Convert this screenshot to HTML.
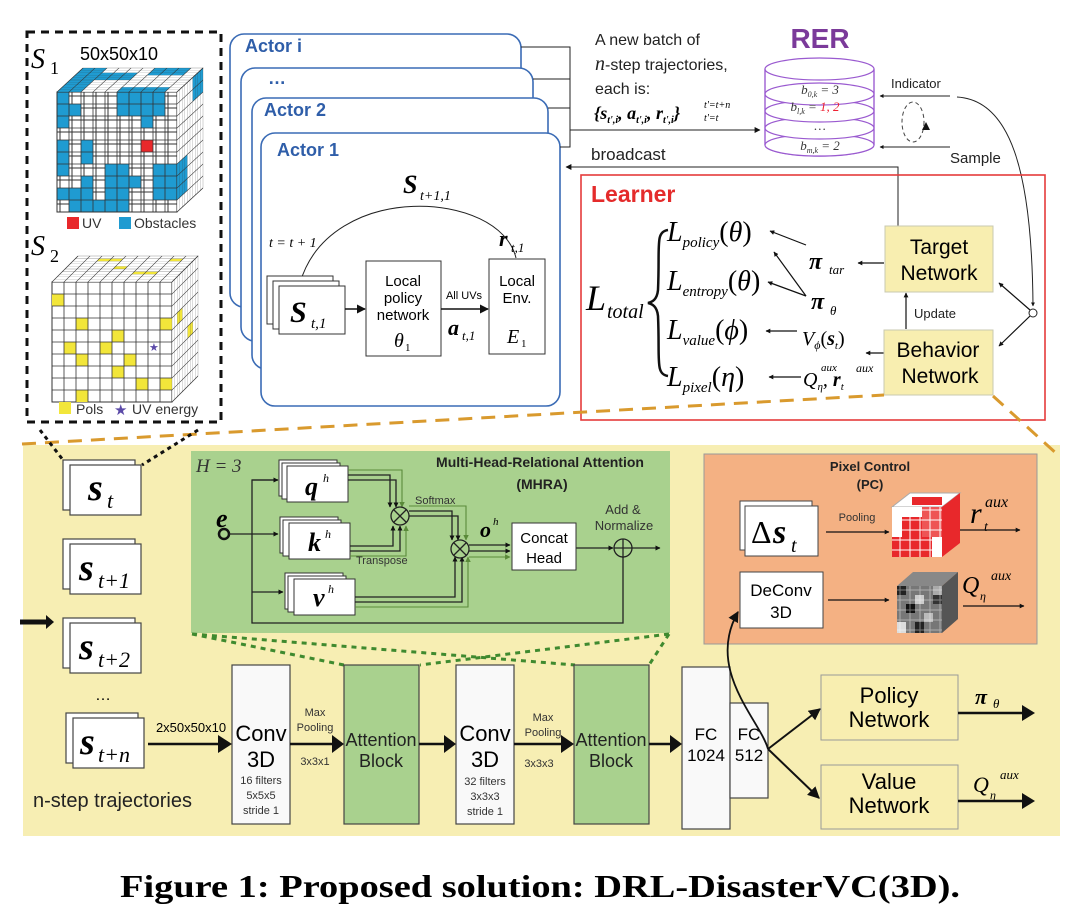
<!DOCTYPE html>
<html><head><meta charset="utf-8"><style>
html,body{margin:0;padding:0;background:#fff;}
svg{display:block;}
.m{font-family:"Liberation Serif",serif;font-style:italic;}
.mb{font-family:"Liberation Serif",serif;font-style:italic;font-weight:bold;}
.sr{font-family:"Liberation Serif",serif;}
</style></head><body>
<svg width="1080" height="923" viewBox="0 0 1080 923" xmlns="http://www.w3.org/2000/svg" font-family="Liberation Sans, sans-serif">
<defs>
<pattern id="g12" width="12" height="12" patternUnits="userSpaceOnUse"><rect width="12" height="12" fill="#fff" stroke="#333" stroke-width="1"/></pattern>
<pattern id="g10" width="10" height="10" patternUnits="userSpaceOnUse"><rect width="10" height="10" fill="none" stroke="#fff" stroke-width="1"/></pattern>
<marker id="a" viewBox="0 0 10 10" refX="9" refY="5" markerWidth="6" markerHeight="6" orient="auto"><path d="M0,0L10,5L0,10z" fill="#111"/></marker>
<marker id="a2" viewBox="0 0 10 10" refX="9" refY="5" markerWidth="4" markerHeight="4" orient="auto"><path d="M0,0L10,5L0,10z" fill="#111"/></marker>
<marker id="ag" viewBox="0 0 10 10" refX="9" refY="5" markerWidth="5" markerHeight="5" orient="auto"><path d="M0,0L10,5L0,10z" fill="#5a8a3a"/></marker>
</defs>

<!-- ===== S1 / S2 dashed box ===== -->
<rect x="27" y="32" width="194" height="390" fill="none" stroke="#111" stroke-width="3" stroke-dasharray="8,6"/>
<text x="31" y="68" class="m" font-size="28">S</text><text x="50" y="74" class="sr" font-size="18">1</text>
<text x="80" y="60" font-size="18">50x50x10</text>

<!-- cube 1 -->
<g>
 <rect x="57" y="92" width="120" height="120" fill="url(#g12)"/>
 <g fill="#1f9bd1">
  <rect x="57" y="92" width="12" height="36"/><rect x="69" y="104" width="12" height="12"/>
  <rect x="57" y="140" width="12" height="36"/><rect x="81" y="140" width="12" height="24"/>
  <rect x="57" y="188" width="36" height="12"/><rect x="69" y="200" width="36" height="12"/>
  <rect x="117" y="92" width="48" height="24"/><rect x="141" y="116" width="12" height="12"/>
  <rect x="105" y="164" width="24" height="48"/><rect x="129" y="176" width="12" height="12"/>
  <rect x="153" y="164" width="24" height="36"/><rect x="81" y="176" width="12" height="24"/>
 </g>
 <rect x="141" y="140" width="12" height="12" fill="#e8282b"/>
 <rect x="57" y="92" width="120" height="120" fill="none" stroke="#333"/>
 <path d="M57 104H177M57 116H177M57 128H177M57 140H177M57 152H177M57 164H177M57 176H177M57 188H177M57 200H177M69 92V212M81 92V212M93 92V212M105 92V212M117 92V212M129 92V212M141 92V212M153 92V212M165 92V212" stroke="#333" stroke-width="0.8"/>
 <g transform="matrix(1,0,0.2167,-0.2,57,92)">
  <rect width="120" height="120" fill="#fff"/>
  <g fill="#1f9bd1"><rect x="0" y="0" width="24" height="120"/><rect x="24" y="60" width="36" height="36"/><rect x="60" y="0" width="48" height="24"/><rect x="72" y="84" width="36" height="36"/></g>
  <rect width="120" height="120" fill="none" stroke="#333"/>
  <path d="M12 0V120M24 0V120M36 0V120M48 0V120M60 0V120M72 0V120M84 0V120M96 0V120M108 0V120M0 12H120M0 24H120M0 36H120M0 48H120M0 60H120M0 72H120M0 84H120M0 96H120M0 108H120" stroke="#333" stroke-width="0.8"/>
 </g>
 <g transform="matrix(0.2167,-0.2,0,1,177,92)">
  <rect width="120" height="120" fill="#fff"/>
  <g fill="#1f9bd1"><rect x="0" y="72" width="48" height="36"/><rect x="72" y="0" width="48" height="24"/></g>
  <rect width="120" height="120" fill="none" stroke="#333"/>
  <path d="M12 0V120M24 0V120M36 0V120M48 0V120M60 0V120M72 0V120M84 0V120M96 0V120M108 0V120M0 12H120M0 24H120M0 36H120M0 48H120M0 60H120M0 72H120M0 84H120M0 96H120M0 108H120" stroke="#333" stroke-width="0.8"/>
 </g>
</g>
<rect x="67" y="217" width="12" height="12" fill="#e8282b"/><text x="82" y="228" font-size="14" fill="#333">UV</text>
<rect x="119" y="217" width="12" height="12" fill="#1f9bd1"/><text x="134" y="228" font-size="14" fill="#333">Obstacles</text>

<text x="31" y="255" class="m" font-size="28">S</text><text x="50" y="262" class="sr" font-size="18">2</text>
<!-- cube 2 -->
<g>
 <rect x="52" y="282" width="120" height="120" fill="#fff" stroke="#333"/>
 <g fill="#f2e63a">
  <rect x="52" y="294" width="12" height="12"/><rect x="76" y="318" width="12" height="12"/><rect x="64" y="342" width="12" height="12"/>
  <rect x="76" y="354" width="12" height="12"/><rect x="112" y="330" width="12" height="12"/><rect x="160" y="318" width="12" height="12"/>
  <rect x="124" y="354" width="12" height="12"/><rect x="112" y="366" width="12" height="12"/><rect x="136" y="378" width="12" height="12"/>
  <rect x="160" y="378" width="12" height="12"/><rect x="76" y="390" width="12" height="12"/><rect x="100" y="342" width="12" height="12"/>
 </g>
 <path d="M52 294H172M52 306H172M52 318H172M52 330H172M52 342H172M52 354H172M52 366H172M52 378H172M52 390H172M64 282V402M76 282V402M88 282V402M100 282V402M112 282V402M124 282V402M136 282V402M148 282V402M160 282V402" stroke="#333" stroke-width="0.8"/>
 <text x="149" y="351" font-size="11" fill="#5b4aa8">★</text>
 <g transform="matrix(1,0,0.2167,-0.2165,52,282)">
  <rect width="120" height="120" fill="#fff"/>
  <g fill="#f2e63a"><rect x="24" y="96" width="24" height="12"/><rect x="72" y="36" width="24" height="12"/><rect x="96" y="96" width="12" height="12"/><rect x="48" y="60" width="12" height="12"/></g>
  <rect width="120" height="120" fill="none" stroke="#333"/>
  <path d="M12 0V120M24 0V120M36 0V120M48 0V120M60 0V120M72 0V120M84 0V120M96 0V120M108 0V120M0 12H120M0 24H120M0 36H120M0 48H120M0 60H120M0 72H120M0 84H120M0 96H120M0 108H120" stroke="#333" stroke-width="0.8"/>
 </g>
 <g transform="matrix(0.2167,-0.2165,0,1,172,282)">
  <rect width="120" height="120" fill="#fff"/>
  <g fill="#f2e63a"><rect x="24" y="36" width="24" height="12"/><rect x="72" y="60" width="24" height="12"/></g>
  <rect width="120" height="120" fill="none" stroke="#333"/>
  <path d="M12 0V120M24 0V120M36 0V120M48 0V120M60 0V120M72 0V120M84 0V120M96 0V120M108 0V120M0 12H120M0 24H120M0 36H120M0 48H120M0 60H120M0 72H120M0 84H120M0 96H120M0 108H120" stroke="#333" stroke-width="0.8"/>
 </g>
</g>
<rect x="59" y="402" width="12" height="12" fill="#f2e63a"/><text x="76" y="414" font-size="14" fill="#333">Pols</text>
<text x="114" y="415" font-size="15" fill="#5b4aa8">★</text><text x="132" y="414" font-size="14" fill="#333">UV energy</text>

<!-- ===== Actors ===== -->
<g fill="#fff" stroke="#3a6bb5" stroke-width="1.6">
 <rect x="230" y="34" width="291" height="273" rx="14"/>
 <rect x="241" y="68" width="292" height="273" rx="14"/>
 <rect x="252" y="98" width="296" height="271" rx="14"/>
 <rect x="261" y="133" width="299" height="273" rx="14"/>
</g>
<g font-weight="bold" fill="#2f5ea9" font-size="18">
 <text x="245" y="52">Actor i</text>
 <text x="268" y="84">…</text>
 <text x="264" y="116">Actor 2</text>
 <text x="277" y="156">Actor 1</text>
</g>
<g stroke="#222" stroke-width="1" fill="none">
 <path d="M521 47H570V147H560M533 79H570M548 108H570"/>
 <path d="M570 130H760" marker-end="url(#a)"/>
</g>
<text x="403" y="193" class="mb" font-size="26">S</text><text x="420" y="200" class="m" font-size="14">t+1,1</text>
<path d="M516 258C500 190 330 180 300 283" fill="none" stroke="#222" stroke-width="1" marker-end="url(#a2)"/>
<text x="269" y="247" class="m" font-size="14">t = t + 1</text>
<text x="499" y="246" class="mb" font-size="22">r</text><text x="511" y="252" class="m" font-size="13">t,1</text>
<rect x="267" y="276" width="66" height="48" fill="#fff" stroke="#333"/>
<rect x="273" y="281" width="66" height="48" fill="#fff" stroke="#333"/>
<rect x="279" y="286" width="66" height="48" fill="#fff" stroke="#333"/>
<text x="290" y="322" class="mb" font-size="30">S</text><text x="311" y="328" class="m" font-size="15">t,1</text>
<path d="M345 309H365" stroke="#111" stroke-width="1.5" marker-end="url(#a)"/>
<rect x="366" y="261" width="75" height="95" fill="#fff" stroke="#333"/>
<g font-size="15" text-anchor="middle"><text x="403" y="286">Local</text><text x="403" y="303">policy</text><text x="403" y="320">network</text></g>
<text x="394" y="347" class="m" font-size="20">θ</text><text x="405" y="351" class="sr" font-size="11">1</text>
<text x="464" y="299" font-size="11" text-anchor="middle">All UVs</text>
<path d="M441 309H488" stroke="#111" stroke-width="1.5" marker-end="url(#a)"/>
<text x="448" y="335" class="mb" font-size="22">a</text><text x="462" y="340" class="m" font-size="13">t,1</text>
<rect x="489" y="259" width="56" height="95" fill="#fff" stroke="#333"/>
<g font-size="15" text-anchor="middle"><text x="517" y="286">Local</text><text x="517" y="303">Env.</text></g>
<text x="507" y="343" class="m" font-size="20">E</text><text x="521" y="347" class="sr" font-size="11">1</text>

<!-- ===== batch text ===== -->
<g font-size="16" fill="#222">
 <text x="595" y="45">A new batch of</text>
 <text x="595" y="70"><tspan class="m" font-size="20">n</tspan>-step trajectories,</text>
 <text x="595" y="94">each is:</text>
</g>
<text x="594" y="119" class="mb" font-size="18">{s<tspan font-size="10" dy="4">t',i</tspan><tspan dy="-4">, a</tspan><tspan font-size="10" dy="4">t',i</tspan><tspan dy="-4">, r</tspan><tspan font-size="10" dy="4">t',i</tspan><tspan dy="-4">}</tspan></text>
<text x="704" y="108" class="m" font-size="10">t'=t+n</text><text x="704" y="121" class="m" font-size="10">t'=t</text>

<!-- ===== RER ===== -->
<text x="820" y="48" text-anchor="middle" font-weight="bold" font-size="28" fill="#7b3a9a">RER</text>
<g fill="#fff" stroke="#9a5ad0" stroke-width="1.2">
 <path d="M765 69V145A54 11 0 0 0 874 145V69"/>
 <ellipse cx="819.5" cy="145" rx="54.5" ry="11"/>
 <ellipse cx="819.5" cy="128" rx="54.5" ry="11"/>
 <ellipse cx="819.5" cy="111" rx="54.5" ry="11"/>
 <ellipse cx="819.5" cy="94" rx="54.5" ry="11"/>
 <ellipse cx="819.5" cy="69" rx="54.5" ry="11"/>
 <path d="M765 69V145M874 69V145" fill="none"/>
</g>
<g font-size="13" fill="#333" text-anchor="middle">
 <text x="820" y="94" class="m">b<tspan font-size="8" dy="3">0,k</tspan><tspan dy="-3"> = 3</tspan></text>
 <text x="815" y="111" class="m">b<tspan font-size="8" dy="3">l,k</tspan><tspan dy="-3"> = </tspan><tspan fill="#e23">1, 2</tspan></text>
 <text x="820" y="130" class="m">…</text>
 <text x="820" y="150" class="m">b<tspan font-size="8" dy="3">m,k</tspan><tspan dy="-3"> = 2</tspan></text>
</g>
<text x="891" y="88" font-size="13" fill="#222">Indicator</text>
<path d="M950 96H880" stroke="#222" stroke-width="1" marker-end="url(#a2)"/>
<text x="950" y="163" font-size="15" fill="#222">Sample</text>
<path d="M950 147H880" stroke="#222" stroke-width="1" marker-end="url(#a2)"/>
<ellipse cx="913" cy="122" rx="11" ry="20" fill="none" stroke="#444" stroke-dasharray="4,3"/>
<path d="M922 130l4 -8 4 8z" fill="#111"/>
<path d="M957 97C1010 100 1032 170 1033 306" fill="none" stroke="#222" stroke-width="1" marker-end="url(#a2)"/>

<text x="591" y="160" font-size="17" fill="#222">broadcast</text>
<path d="M898 226V167H566" fill="none" stroke="#222" stroke-width="1" marker-end="url(#a)"/>

<!-- ===== Learner ===== -->
<rect x="581" y="175" width="464" height="245" fill="none" stroke="#e53b3b" stroke-width="1.6"/>
<text x="591" y="202" font-weight="bold" font-size="23" fill="#e42b2b">Learner</text>
<text x="586" y="310" class="m" font-size="36">L</text><text x="607" y="318" class="m" font-size="20">total</text>
<path d="M668 230C655 232 660 245 658 290C657 300 652 302 648 303C652 304 657 306 658 316C660 360 655 374 668 376" fill="none" stroke="#111" stroke-width="2.5"/>
<text x="667" y="241" class="m" font-size="28">L<tspan font-size="15" dy="6">policy</tspan><tspan dy="-6" font-style="normal">(</tspan>θ<tspan font-style="normal">)</tspan></text>
<text x="667" y="290" class="m" font-size="28">L<tspan font-size="15" dy="6">entropy</tspan><tspan dy="-6" font-style="normal">(</tspan>θ<tspan font-style="normal">)</tspan></text>
<text x="667" y="339" class="m" font-size="28">L<tspan font-size="15" dy="6">value</tspan><tspan dy="-6" font-style="normal">(</tspan>ϕ<tspan font-style="normal">)</tspan></text>
<text x="667" y="386" class="m" font-size="28">L<tspan font-size="15" dy="6">pixel</tspan><tspan dy="-6" font-style="normal">(</tspan>η<tspan font-style="normal">)</tspan></text>
<text x="809" y="269" class="mb" font-size="24">π</text><text x="829" y="274" class="m" font-size="13">tar</text>
<text x="811" y="309" class="mb" font-size="24">π</text><text x="830" y="315" class="m" font-size="13">θ</text>
<text x="802" y="345" class="m" font-size="20">V<tspan font-size="12" dy="4">ϕ</tspan><tspan dy="-4" font-style="normal">(</tspan><tspan font-weight="bold">s</tspan><tspan font-size="11" dy="4">t</tspan><tspan dy="-4" font-style="normal">)</tspan></text>
<text x="803" y="386" class="m" font-size="20">Q<tspan font-size="11" dy="4">η</tspan><tspan dy="-4">, </tspan><tspan font-weight="bold">r</tspan><tspan font-size="11" dy="4">t</tspan></text>
<text x="821" y="371" class="m" font-size="11">aux</text><text x="856" y="372" class="m" font-size="12">aux</text>
<g stroke="#111" stroke-width="1.2" fill="none">
 <path d="M806 245L770 231" marker-end="url(#a2)"/>
 <path d="M806 296L774 252" marker-end="url(#a2)"/>
 <path d="M806 296L768 282" marker-end="url(#a2)"/>
 <path d="M797 331H766" marker-end="url(#a2)"/>
 <path d="M801 377H769" marker-end="url(#a2)"/>
 <path d="M884 263H858" marker-end="url(#a2)"/>
 <path d="M884 353H866" marker-end="url(#a2)"/>
 <path d="M906 329V293" marker-end="url(#a2)"/>
 <path d="M1030 310L999 283" marker-end="url(#a2)"/>
 <path d="M1030 316L999 346" marker-end="url(#a2)"/>
</g>
<circle cx="1033" cy="313" r="4" fill="#fff" stroke="#222"/>
<text x="914" y="318" font-size="13" fill="#222">Update</text>
<rect x="885" y="226" width="108" height="66" fill="#f8eeb0" stroke="#c9c9b0"/>
<text x="939" y="254" text-anchor="middle" font-size="21">Target</text><text x="939" y="280" text-anchor="middle" font-size="21">Network</text>
<rect x="884" y="330" width="109" height="65" fill="#f8eeb0" stroke="#c9c9b0"/>
<text x="938" y="357" text-anchor="middle" font-size="21">Behavior</text><text x="940" y="383" text-anchor="middle" font-size="21">Network</text>

<!-- ===== lower panel ===== -->
<rect x="23" y="445" width="1037" height="391" fill="#f7eeb3"/>
<path d="M22 444L884 395M993 396L1058 455" fill="none" stroke="#d99a2e" stroke-width="3" stroke-dasharray="14,9"/>
<path d="M40 430L63 460M198 430L142 465" stroke="#111" stroke-width="3" stroke-dasharray="4,4"/>

<g fill="#fff" stroke="#444" stroke-width="1.2">
 <rect x="63" y="460" width="72" height="50"/><rect x="70" y="465" width="71" height="50"/>
 <rect x="63" y="539" width="72" height="50"/><rect x="70" y="544" width="71" height="50"/>
 <rect x="63" y="618" width="72" height="50"/><rect x="70" y="623" width="71" height="50"/>
 <rect x="66" y="713" width="72" height="50"/><rect x="73" y="718" width="71" height="50"/>
</g>
<g class="mb" font-size="38">
 <text x="88" y="500" class="mb">s</text><text x="79" y="580" class="mb">s</text><text x="79" y="659" class="mb">s</text><text x="80" y="754" class="mb">s</text>
</g>
<g font-size="22">
 <text x="107" y="508" class="m">t</text><text x="98" y="588" class="m">t+1</text><text x="98" y="667" class="m">t+2</text><text x="98" y="762" class="m">t+n</text>
</g>
<text x="103" y="700" font-size="16" text-anchor="middle">…</text>
<path d="M20 622H48" stroke="#111" stroke-width="5"/><path d="M46 615L54 622L46 629z" fill="#111"/>
<text x="33" y="807" font-size="20" fill="#222">n-step trajectories</text>

<!-- MHRA green -->
<rect x="191" y="451" width="479" height="182" fill="#a9d18e"/>
<text x="196" y="472" class="m" font-size="19" fill="#333">H = 3</text>
<text x="540" y="467" text-anchor="middle" font-weight="bold" font-size="14" fill="#222">Multi-Head-Relational Attention</text>
<text x="542" y="489" text-anchor="middle" font-weight="bold" font-size="14" fill="#222">(MHRA)</text>
<g fill="#fff" stroke="#333">
 <rect x="279" y="460" width="58" height="36"/><rect x="282" y="463" width="58" height="36"/><rect x="287" y="466" width="61" height="36"/>
 <rect x="280" y="517" width="58" height="36"/><rect x="283" y="520" width="58" height="36"/><rect x="289" y="523" width="61" height="36"/>
 <rect x="285" y="573" width="58" height="36"/><rect x="288" y="576" width="58" height="36"/><rect x="294" y="579" width="61" height="36"/>
</g>
<text x="305" y="495" class="mb" font-size="26">q</text><text x="323" y="482" class="m" font-size="12">h</text>
<text x="308" y="551" class="mb" font-size="26">k</text><text x="325" y="538" class="m" font-size="12">h</text>
<text x="313" y="606" class="mb" font-size="26">v</text><text x="328" y="593" class="m" font-size="12">h</text>
<text x="216" y="527" class="mb" font-size="26">e</text>
<circle cx="224" cy="534" r="5" fill="none" stroke="#111" stroke-width="2.5"/>
<g stroke="#222" stroke-width="1.3" fill="none">
 <path d="M229 534H278" marker-end="url(#a2)"/>
 <path d="M278 480H252V623H623V557" />
 <path d="M252 480H278" marker-end="url(#a2)"/>
 <path d="M252 592H283" marker-end="url(#a2)"/>
 <path d="M623 557V558" marker-end="url(#a2)"/>
 <path d="M348 475H390V507" marker-end="url(#a2)"/>
 <path d="M348 480H396V507" marker-end="url(#a2)"/>
 <path d="M350 546H393V526" marker-end="url(#a2)"/>
 <path d="M350 551H400V526" marker-end="url(#a2)"/>
 <path d="M409 511H452V540" marker-end="url(#a2)"/>
 <path d="M409 516H458V540" marker-end="url(#a2)"/>
 <path d="M355 597H455V557" marker-end="url(#a2)"/>
 <path d="M355 602H462V557" marker-end="url(#a2)"/>
 <path d="M469 545H510" marker-end="url(#a2)"/>
 <path d="M469 551H510" marker-end="url(#a2)"/>
 <path d="M576 548H613" marker-end="url(#a2)"/>
 <path d="M632 548H660" marker-end="url(#a2)"/>
</g>
<g stroke="#5a8a3a" stroke-width="1.1" fill="none">
 <path d="M348 470H402V507" marker-end="url(#ag)"/>
 <path d="M350 556H406V526" marker-end="url(#ag)"/>
 <path d="M409 506H466V540" marker-end="url(#ag)"/>
 <path d="M355 607H468V557" marker-end="url(#ag)"/>
 <path d="M469 557H510" marker-end="url(#ag)"/>
</g>
<g fill="#a9d18e" stroke="#222" stroke-width="1.3">
 <circle cx="400" cy="516" r="9"/><path d="M394 510L406 522M406 510L394 522"/>
 <circle cx="460" cy="549" r="9"/><path d="M454 543L466 555M466 543L454 555"/>
 <circle cx="623" cy="548" r="9"/><path d="M614 548H632M623 539V557"/>
</g>
<text x="415" y="504" font-size="11" fill="#333">Softmax</text>
<text x="356" y="564" font-size="11" fill="#333">Transpose</text>
<text x="480" y="537" class="mb" font-size="22">o</text><text x="493" y="525" class="m" font-size="11">h</text>
<rect x="512" y="523" width="64" height="47" fill="#fff" stroke="#333"/>
<text x="544" y="543" text-anchor="middle" font-size="15">Concat</text><text x="544" y="563" text-anchor="middle" font-size="15">Head</text>
<text x="623" y="514" text-anchor="middle" font-size="13" fill="#333">Add &amp;</text>
<text x="624" y="530" text-anchor="middle" font-size="13" fill="#333">Normalize</text>
<path d="M192 634L344 665M192 634L575 665M669 634L420 665M669 634L649 665" stroke="#3f8a2f" stroke-width="3" stroke-dasharray="5,5" fill="none"/>

<!-- bottom row -->
<g stroke="#444" stroke-width="1.2">
 <rect x="232" y="665" width="58" height="159" fill="#f9f9f9"/>
 <rect x="344" y="665" width="75" height="159" fill="#a9d18e"/>
 <rect x="456" y="665" width="58" height="159" fill="#f9f9f9"/>
 <rect x="574" y="665" width="75" height="159" fill="#a9d18e"/>
 <rect x="682" y="667" width="48" height="162" fill="#f9f9f9"/>
 <rect x="730" y="703" width="38" height="95" fill="#f9f9f9"/>
</g>
<g stroke="#111" stroke-width="2.5" fill="none">
 <path d="M148 744H220"/><path d="M290 744H334"/><path d="M419 744H446"/><path d="M514 744H563"/><path d="M649 744H672"/>
</g>
<g fill="#111"><path d="M218 735L232 744L218 753z"/><path d="M332 735L344 744L332 753z"/><path d="M444 735L456 744L444 753z"/><path d="M561 735L574 744L561 753z"/><path d="M670 735L682 744L670 753z"/></g>
<text x="191" y="732" text-anchor="middle" font-size="13">2x50x50x10</text>
<g text-anchor="middle">
 <text x="261" y="741" font-size="22">Conv</text><text x="261" y="767" font-size="22">3D</text>
 <text x="261" y="784" font-size="11" fill="#333">16 filters</text><text x="261" y="799" font-size="11" fill="#333">5x5x5</text><text x="261" y="814" font-size="11" fill="#333">stride 1</text>
 <text x="485" y="741" font-size="22">Conv</text><text x="485" y="767" font-size="22">3D</text>
 <text x="485" y="785" font-size="11" fill="#333">32 filters</text><text x="485" y="800" font-size="11" fill="#333">3x3x3</text><text x="485" y="815" font-size="11" fill="#333">stride 1</text>
 <text x="315" y="716" font-size="11" fill="#333">Max</text><text x="315" y="731" font-size="11" fill="#333">Pooling</text><text x="315" y="765" font-size="11" fill="#333">3x3x1</text>
 <text x="543" y="721" font-size="11" fill="#333">Max</text><text x="543" y="736" font-size="11" fill="#333">Pooling</text><text x="539" y="767" font-size="11" fill="#333">3x3x3</text>
 <text x="381" y="746" font-size="18" fill="#222">Attention</text><text x="381" y="767" font-size="18" fill="#222">Block</text>
 <text x="611" y="746" font-size="18" fill="#222">Attention</text><text x="611" y="767" font-size="18" fill="#222">Block</text>
 <text x="706" y="740" font-size="17">FC</text><text x="706" y="761" font-size="17">1024</text>
 <text x="749" y="740" font-size="17">FC</text><text x="749" y="761" font-size="17">512</text>
</g>

<!-- Pixel control -->
<rect x="704" y="454" width="333" height="190" fill="#f4b183" stroke="#999"/>
<text x="870" y="471" text-anchor="middle" font-weight="bold" font-size="13" fill="#222">Pixel Control</text>
<text x="870" y="489" text-anchor="middle" font-weight="bold" font-size="13" fill="#222">(PC)</text>
<rect x="740" y="501" width="72" height="49" fill="#fff" stroke="#444"/>
<rect x="745" y="506" width="73" height="50" fill="#fff" stroke="#444"/>
<text x="751" y="543" class="sr" font-size="32">Δ</text><text x="773" y="543" class="mb" font-size="34">s</text><text x="791" y="552" class="m" font-size="20">t</text>
<text x="857" y="521" text-anchor="middle" font-size="11" fill="#333">Pooling</text>
<path d="M826 532H889" stroke="#111" stroke-width="1.2" marker-end="url(#a2)"/>
<g>
 <polygon points="892,507 910,493 960,493 942,507" fill="#fff" stroke="#aaa"/>
 <polygon points="942,507 960,493 960,543 942,557" fill="#e8282b"/>
 <rect x="892" y="507" width="50" height="50" fill="#fff"/>
 <rect x="902" y="517" width="20" height="20" fill="#e8282b"/><rect x="922" y="507" width="20" height="30" fill="#e55"/><rect x="892" y="537" width="40" height="20" fill="#e8282b"/><rect x="912" y="497" width="30" height="8" fill="#e8282b"/>
 <rect x="892" y="507" width="50" height="50" fill="url(#g10)"/>
</g>
<text x="970" y="523" class="m" font-size="30">r</text><text x="984" y="531" class="m" font-size="14">t</text><text x="985" y="507" class="m" font-size="16">aux</text>
<path d="M960 530H1020" stroke="#111" stroke-width="1.2" marker-end="url(#a2)"/>
<rect x="740" y="572" width="83" height="56" fill="#fff" stroke="#444"/>
<text x="781" y="596" text-anchor="middle" font-size="17">DeConv</text><text x="781" y="618" text-anchor="middle" font-size="17">3D</text>
<path d="M828 600H889" stroke="#111" stroke-width="1.2" marker-end="url(#a2)"/>
<g>
 <polygon points="897,586 913,572 958,572 942,586" fill="#888"/>
 <polygon points="942,586 958,572 958,619 942,633" fill="#555"/>
 <rect x="897" y="586" width="45" height="47" fill="#777"/>
 <rect x="897" y="586" width="9" height="9" fill="#222"/><rect x="915" y="595" width="9" height="9" fill="#ccc"/><rect x="906" y="604" width="9" height="9" fill="#111"/><rect x="924" y="613" width="9" height="9" fill="#bbb"/><rect x="933" y="595" width="9" height="9" fill="#333"/><rect x="897" y="622" width="9" height="11" fill="#ddd"/><rect x="915" y="622" width="9" height="11" fill="#222"/><rect x="933" y="586" width="9" height="9" fill="#aaa"/>
 <rect x="897" y="586" width="45" height="47" fill="url(#g10)" opacity="0.4"/>
</g>
<text x="962" y="593" class="m" font-size="24">Q</text><text x="980" y="600" class="m" font-size="12">η</text><text x="991" y="580" class="m" font-size="14">aux</text>
<path d="M963 606H1024" stroke="#111" stroke-width="1.2" marker-end="url(#a2)"/>

<path d="M768 749C760 720 705 670 738 612" fill="none" stroke="#111" stroke-width="1.8" marker-end="url(#a)"/>
<path d="M768 749L820 709" stroke="#111" stroke-width="2" marker-end="url(#a)"/>
<path d="M768 749L819 798" stroke="#111" stroke-width="2" marker-end="url(#a)"/>
<rect x="821" y="675" width="137" height="65" fill="#f8eeb0" stroke="#999"/>
<text x="889" y="703" text-anchor="middle" font-size="22">Policy</text><text x="889" y="727" text-anchor="middle" font-size="22">Network</text>
<rect x="821" y="765" width="137" height="64" fill="#f8eeb0" stroke="#999"/>
<text x="889" y="789" text-anchor="middle" font-size="22">Value</text><text x="889" y="813" text-anchor="middle" font-size="22">Network</text>
<text x="975" y="704" class="mb" font-size="22">π</text><text x="993" y="708" class="m" font-size="13">θ</text>
<path d="M958 713H1024" stroke="#111" stroke-width="2.5"/><path d="M1022 705L1035 713L1022 721z" fill="#111"/>
<text x="973" y="792" class="m" font-size="22">Q</text><text x="990" y="799" class="m" font-size="12">η</text><text x="1000" y="779" class="m" font-size="13">aux</text>
<path d="M958 801H1024" stroke="#111" stroke-width="2.5"/><path d="M1022 793L1035 801L1022 809z" fill="#111"/>

<text x="540" y="897" text-anchor="middle" class="sr" font-weight="bold" font-size="32" textLength="840" lengthAdjust="spacingAndGlyphs">Figure 1: Proposed solution: DRL-DisasterVC(3D).</text>
</svg>
</body></html>
